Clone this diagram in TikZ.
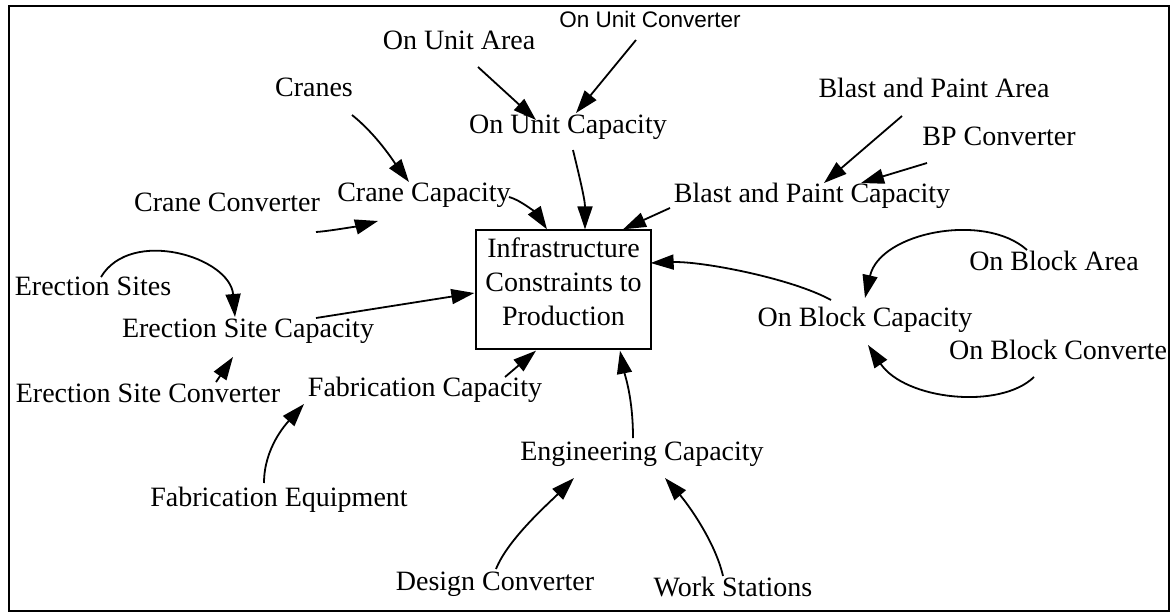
\documentclass[tikz,border=0pt]{standalone}
\usepackage{fontspec}
\setmainfont{Liberation Serif}
\newfontfamily\arialfont{Liberation Sans}
\usetikzlibrary{arrows.meta}
\begin{document}
\begin{tikzpicture}[x=1pt,y=-1pt,
  lbl/.style={inner sep=0pt, font=\fontsize{28}{34}\selectfont},
  lblsans/.style={inner sep=0pt, font=\arialfont\fontsize{22.5}{26}\selectfont},
  arr/.style={line width=1.8pt, -{Triangle[length=23pt,width=15pt]}},
  boxnode/.style={draw, line width=1.3pt, inner sep=0pt, font=\fontsize{28}{34}\selectfont}]
\useasboundingbox (0,0) rectangle (1171,613);
\draw[line width=2.2pt] (9,6) rectangle (1169,611);

% nodes
\node[lblsans] (onuconv) at (650,19) {On Unit Converter};
\node[lbl] (onuarea) at (459,40) {On Unit Area};
\node[lbl] (cranes) at (314,87) {Cranes};
\node[lbl] (onucap) at (568,127) {On Unit Capacity};
\node[lbl] (bpa) at (934,88) {Blast and Paint Area};
\node[lbl] (bpc) at (999,136) {BP Converter};
\node[lbl] (craneconv) at (227,202) {Crane Converter};
\node[lbl] (cranecap) at (424,195.5) {Crane Capacity};
\node[lbl] (bpcap) at (812,196) {Blast and Paint Capacity};
\node[boxnode] (box) at (563.5,289.5) {\parbox[c][119pt][t]{175pt}{\centering\vspace*{7.5pt}Infrastructure\\Constraints to\\Production}};
\node[lbl] (erecsites) at (93,286.5) {Erection Sites};
\node[lbl] (escap) at (248,331) {Erection Site Capacity};
\node[lbl] (esconv) at (148,393) {Erection Site Converter};
\node[lbl] (fabcap) at (425,389.5) {Fabrication Capacity};
\node[lbl] (fabeq) at (279,499.5) {Fabrication Equipment};
\node[lbl] (engcap) at (642,454.5) {Engineering Capacity};
\node[lbl] (desconv) at (495,584.5) {Design Converter};
\node[lbl] (workst) at (733,586.5) {Work Stations};
\node[lbl] (obcap) at (865,319.5) {On Block Capacity};
\node[lbl] (obarea) at (1054,261) {On Block Area};
\node[lbl, anchor=west] (obconv) at (949,349.5) {On Block Converte};

% connectors
\draw[arr] ([shift={(38,28)}]cranes.center) .. controls +(25,20) and +(-15,-20) .. ([shift={(-15,-13.5)}]cranecap.center);
\draw[arr] ([shift={(19,27)}]onuarea.center) -- ([shift={(-32,-7)}]onucap.center);
\draw[arr] ([shift={(-14,21)}]onuconv.center) -- ([shift={(8,-14)}]onucap.center);
\draw[arr] ([shift={(5,23)}]onucap.center) .. controls +(6,25) and +(0,-30) .. ([shift={(21.5,0)}]box.north);
\draw[arr] ([shift={(85,1.5)}]cranecap.center) .. controls +(12,3) and +(-10,-15) .. ([shift={(-16.5,0)}]box.north);
\draw[arr] ([shift={(89,30)}]craneconv.center) .. controls +(15,-1) and +(-15,4) .. ([shift={(-46,25.5)}]cranecap.center);
\draw[arr] ([shift={(-32,28)}]bpa.center) -- ([shift={(12,-13)}]bpcap.center);
\draw[arr] ([shift={(-72,27)}]bpc.center) -- ([shift={(49,-13)}]bpcap.center);
\draw[arr] ([shift={(-142,12)}]bpcap.center) -- ([shift={(59.5,0)}]box.north);
\draw[arr] ([shift={(8,-9.5)}]erecsites.center) .. controls +(30,-50) and +(-5,-60) .. ([shift={(-13,-14)}]escap.center);
\draw[arr] ([shift={(68,-13)}]escap.center) -- ([shift={(-1,3.5)}]box.west);
\draw[arr] ([shift={(68,-11)}]esconv.center) -- ([shift={(-15,26)}]escap.center);
\draw[arr] ([shift={(80,-12.5)}]fabcap.center) -- ([shift={(-27.5,1)}]box.south);
\draw[arr] ([shift={(-15,-16.5)}]fabeq.center) .. controls +(0,-35) and +(-18,20) .. ([shift={(-121,14.5)}]fabcap.center);
\draw[arr] ([shift={(-9,-16.5)}]engcap.center) .. controls +(0,-40) and +(5,25) .. ([shift={(56.5,1)}]box.south);
\draw[arr] ([shift={(1,-15.5)}]desconv.center) .. controls +(12,-30) and +(-25,25) .. ([shift={(-68,23.5)}]engcap.center);
\draw[arr] ([shift={(-10,-10.5)}]workst.center) .. controls +(-8,-35) and +(22,25) .. ([shift={(23,23.5)}]engcap.center);
\draw[arr] ([shift={(-34,-19.5)}]obcap.center) .. controls +(-40,-22) and +(50,-2) .. ([shift={(-1,-26.5)}]box.east);
\draw[arr] ([shift={(-27,-11)}]obarea.center) .. controls +(-42,-38) and +(15,-66) .. ([shift={(0,-21.5)}]obcap.center);
\draw[arr] ([shift={(85,27.5)}]obconv.west) .. controls +(-34,33) and +(37,55) .. ([shift={(3,25.5)}]obcap.center);
\end{tikzpicture}
\end{document}
